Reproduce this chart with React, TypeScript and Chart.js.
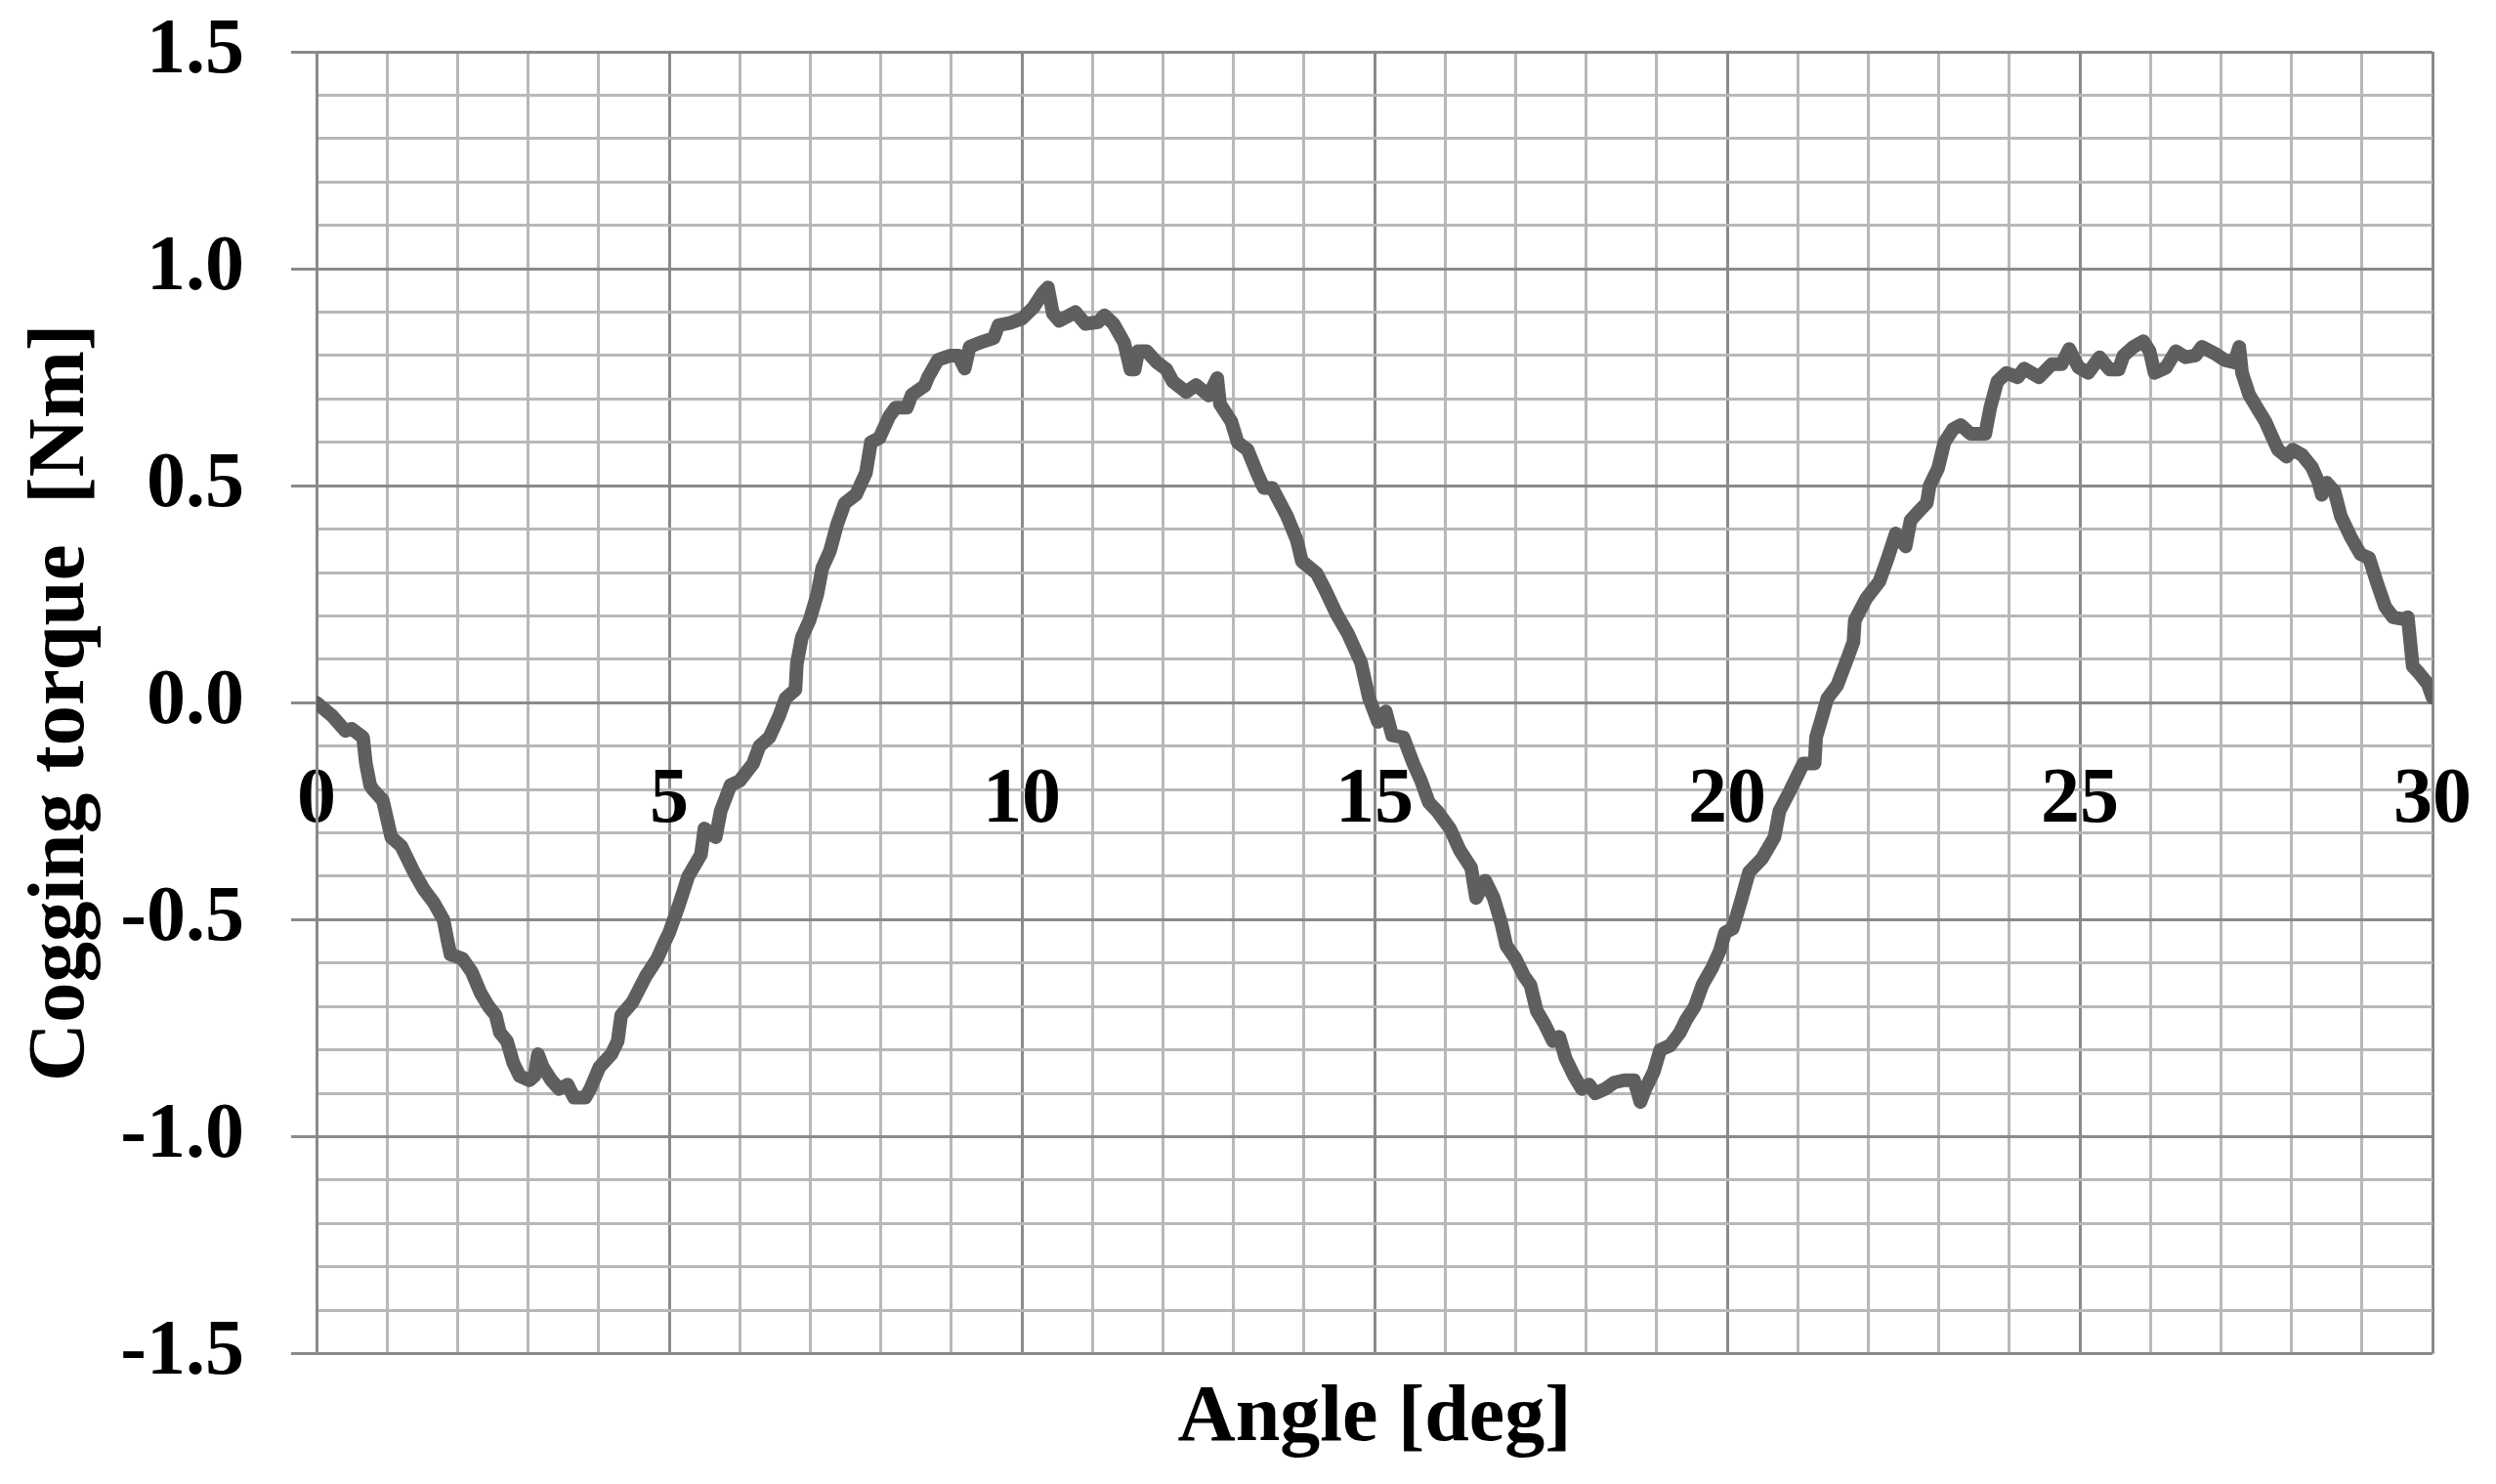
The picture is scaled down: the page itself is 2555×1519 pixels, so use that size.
import { useEffect, useRef } from 'react';
import { Chart, registerables } from 'chart.js';

Chart.register(...registerables);

// Rotor angle [deg]
const angleDeg = [
  0.0, 0.22, 0.41, 0.5, 0.66, 0.7, 0.76, 0.8, 0.94, 1.06, 1.2, 1.38, 1.52, 1.66, 1.8, 1.86, 1.9, 2.07,
  2.2, 2.33, 2.44, 2.54, 2.6, 2.7, 2.79, 2.88, 3.02, 3.09, 3.14, 3.21, 3.33, 3.44, 3.56, 3.65, 3.81,
  3.88, 4.01, 4.18, 4.27, 4.32, 4.48, 4.67, 4.83, 4.94, 5.0, 5.13, 5.27, 5.45, 5.5, 5.66, 5.73, 5.87,
  6.0, 6.19, 6.28, 6.42, 6.56, 6.65, 6.79, 6.81, 6.88, 6.99, 7.1, 7.17, 7.28, 7.38, 7.49, 7.65, 7.79,
  7.86, 7.98, 8.12, 8.21, 8.37, 8.44, 8.62, 8.67, 8.81, 8.99, 9.1, 9.19, 9.26, 9.41, 9.6, 9.67, 9.83,
  10.0, 10.16, 10.3, 10.37, 10.44, 10.53, 10.76, 10.9, 11.08, 11.17, 11.3, 11.45, 11.54, 11.6, 11.65,
  11.77, 11.91, 12.05, 12.14, 12.33, 12.47, 12.65, 12.77, 12.81, 12.97, 13.06, 13.2, 13.34, 13.43,
  13.55, 13.76, 13.9, 13.97, 14.18, 14.3, 14.46, 14.62, 14.81, 14.92, 15.05, 15.16, 15.25, 15.41,
  15.55, 15.66, 15.77, 15.89, 16.07, 16.21, 16.37, 16.44, 16.57, 16.69, 16.8, 16.87, 17.0, 17.12,
  17.21, 17.3, 17.41, 17.53, 17.62, 17.71, 17.83, 17.94, 18.04, 18.13, 18.27, 18.4, 18.54, 18.68,
  18.77, 18.84, 18.96, 19.05, 19.19, 19.33, 19.42, 19.54, 19.65, 19.79, 19.9, 19.97, 20.08, 20.19,
  20.31, 20.49, 20.67, 20.74, 20.9, 21.08, 21.24, 21.26, 21.35, 21.42, 21.56, 21.7, 21.79, 21.81,
  21.97, 22.16, 22.27, 22.39, 22.53, 22.6, 22.71, 22.83, 22.87, 22.99, 23.08, 23.2, 23.31, 23.45,
  23.66, 23.73, 23.83, 23.96, 24.12, 24.21, 24.42, 24.6, 24.74, 24.85, 24.98, 25.12, 25.28, 25.42,
  25.55, 25.62, 25.76, 25.9, 25.99, 26.06, 26.22, 26.36, 26.5, 26.64, 26.73, 26.91, 27.05, 27.19,
  27.26, 27.3, 27.4, 27.51, 27.63, 27.72, 27.81, 27.93, 28.02, 28.15, 28.29, 28.38, 28.43, 28.5,
  28.61, 28.7, 28.84, 28.98, 29.1, 29.21, 29.33, 29.44, 29.58, 29.65, 29.72, 29.81, 29.93, 30.0,
];

// Cogging torque [Nm]
const torqueNm = [
  0.0, -0.03, -0.065, -0.06, -0.08, -0.14, -0.19, -0.2, -0.225, -0.31, -0.33, -0.39, -0.43, -0.46,
  -0.5, -0.55, -0.58, -0.59, -0.62, -0.67, -0.7, -0.72, -0.76, -0.78, -0.83, -0.86, -0.87, -0.86,
  -0.81, -0.84, -0.87, -0.89, -0.88, -0.91, -0.91, -0.89, -0.84, -0.81, -0.78, -0.72, -0.69, -0.63,
  -0.59, -0.55, -0.53, -0.47, -0.4, -0.35, -0.29, -0.31, -0.25, -0.19, -0.18, -0.14, -0.1, -0.08,
  -0.03, 0.01, 0.03, 0.09, 0.15, 0.19, 0.25, 0.31, 0.35, 0.41, 0.46, 0.48, 0.53, 0.6, 0.61, 0.66,
  0.68, 0.68, 0.71, 0.73, 0.75, 0.79, 0.8, 0.8, 0.77, 0.82, 0.83, 0.84, 0.87, 0.875, 0.885, 0.91,
  0.945, 0.957, 0.897, 0.88, 0.9, 0.873, 0.877, 0.893, 0.873, 0.83, 0.768, 0.768, 0.81, 0.81, 0.785,
  0.768, 0.74, 0.716, 0.732, 0.708, 0.748, 0.688, 0.648, 0.6, 0.583, 0.527, 0.495, 0.495, 0.43,
  0.374, 0.326, 0.298, 0.26, 0.205, 0.16, 0.092, 0.012, -0.044, -0.02, -0.075, -0.08, -0.14, -0.18,
  -0.23, -0.25, -0.29, -0.34, -0.38, -0.45, -0.41, -0.45, -0.51, -0.56, -0.59, -0.63, -0.65, -0.71,
  -0.74, -0.78, -0.77, -0.82, -0.86, -0.89, -0.88, -0.9, -0.89, -0.875, -0.87, -0.87, -0.92, -0.89,
  -0.85, -0.8, -0.79, -0.76, -0.73, -0.7, -0.65, -0.61, -0.57, -0.53, -0.52, -0.46, -0.39, -0.36,
  -0.31, -0.25, -0.2, -0.14, -0.14, -0.08, -0.03, 0.01, 0.04, 0.1, 0.14, 0.19, 0.24, 0.28, 0.33,
  0.39, 0.36, 0.42, 0.44, 0.46, 0.5, 0.54, 0.6, 0.63, 0.64, 0.62, 0.62, 0.68, 0.74, 0.76, 0.75, 0.77,
  0.75, 0.78, 0.78, 0.815, 0.773, 0.76, 0.796, 0.768, 0.768, 0.8, 0.82, 0.833, 0.81, 0.76, 0.772,
  0.81, 0.796, 0.8, 0.82, 0.805, 0.79, 0.784, 0.82, 0.76, 0.71, 0.68, 0.648, 0.615, 0.583, 0.567,
  0.583, 0.571, 0.543, 0.51, 0.479, 0.507, 0.487, 0.43, 0.382, 0.342, 0.334, 0.278, 0.221, 0.197,
  0.193, 0.197, 0.084, 0.068, 0.044, 0.012,
];

const X_MIN = 0;
const X_MAX = 30;
const Y_MIN = -1.5;
const Y_MAX = 1.5;
const X_MAJOR = 5;
const Y_MAJOR = 0.5;

const SERIF = "'Liberation Serif', 'Times New Roman', serif";
const MAJOR_GRID = '#8a8a8a';
const MINOR_GRID = '#b8b8b8';

const isMultiple = (v: number, step: number) =>
  Math.abs(v / step - Math.round(v / step)) < 1e-6;

export default function App() {
  const canvasRef = useRef<HTMLCanvasElement | null>(null);

  useEffect(() => {
    if (!canvasRef.current) return;

    const chart = new Chart(canvasRef.current, {
      type: 'line',
      data: {
        datasets: [
          {
            label: 'Cogging torque',
            data: angleDeg.map((x, i) => ({ x, y: torqueNm[i] })),
            borderColor: '#5f5f5f',
            borderWidth: 14,
            pointRadius: 0,
            tension: 0,
            fill: false,
            borderJoinStyle: 'round',
            borderCapStyle: 'round',
          },
        ],
      },
      options: {
        animation: false,
        responsive: true,
        maintainAspectRatio: false,
        layout: { padding: { left: 0, right: 65, top: 53, bottom: 0 } },
        plugins: {
          legend: { display: false },
          tooltip: { enabled: false },
          title: {
            display: true,
            position: 'bottom',
            fullSize: false,
            text: 'Angle [deg]',
            color: '#000',
            font: { family: SERIF, size: 82, weight: 'bold', lineHeight: 1.2 },
            padding: { top: 18, bottom: 17 },
          },
        },
        scales: {
          x: {
            type: 'linear',
            position: { y: 0 },
            min: X_MIN,
            max: X_MAX,
            afterFit: (scale) => {
              // let the layout padding alone decide the plot edges
              scale.paddingLeft = 0;
              scale.paddingRight = 0;
            },
            ticks: {
              stepSize: 1,
              autoSkip: false,
              maxRotation: 0,
              padding: 53,
              color: '#000',
              font: { family: SERIF, size: 80, weight: 'bold', lineHeight: 1.2 },
              callback: (v) => (isMultiple(Number(v), X_MAJOR) ? String(v) : ''),
            },
            grid: {
              color: (ctx) => (isMultiple(ctx.tick.value, X_MAJOR) ? MAJOR_GRID : MINOR_GRID),
              lineWidth: 3,
              drawTicks: false,
            },
            border: { color: MAJOR_GRID, width: 3 },
          },
          y: {
            type: 'linear',
            min: Y_MIN,
            max: Y_MAX,
            afterFit: (scale) => {
              scale.width = 324;
              scale.paddingTop = 0;
              scale.paddingBottom = 0;
            },
            ticks: {
              stepSize: 0.1,
              autoSkip: false,
              padding: 48,
              color: '#000',
              font: { family: SERIF, size: 80, weight: 'bold', lineHeight: 1.2 },
              callback: (v) => {
                const n = Number(v);
                if (!isMultiple(n, Y_MAJOR)) return '';
                return (Math.abs(n) < 1e-9 ? 0 : n).toFixed(1);
              },
            },
            grid: {
              color: (ctx) => (isMultiple(ctx.tick.value, Y_MAJOR) ? MAJOR_GRID : MINOR_GRID),
              lineWidth: 3,
              tickLength: 26,
              tickWidth: 3,
              tickColor: (ctx) =>
                isMultiple(ctx.tick.value, Y_MAJOR) ? MAJOR_GRID : 'rgba(0,0,0,0)',
            },
            border: { color: MAJOR_GRID, width: 3 },
            title: {
              display: true,
              text: 'Cogging torque  [Nm]',
              color: '#000',
              font: { family: SERIF, size: 83, weight: 'bold', lineHeight: 1.2 },
              padding: { top: 14, bottom: 0 },
            },
          },
        },
      },
    });

    return () => {
      chart.destroy();
    };
  }, []);

  return (
    <div
      style={{
        position: 'fixed',
        left: 0,
        top: 0,
        width: 2555,
        height: 1519,
        background: '#fff',
      }}
    >
      <canvas ref={canvasRef}></canvas>
    </div>
  );
}
